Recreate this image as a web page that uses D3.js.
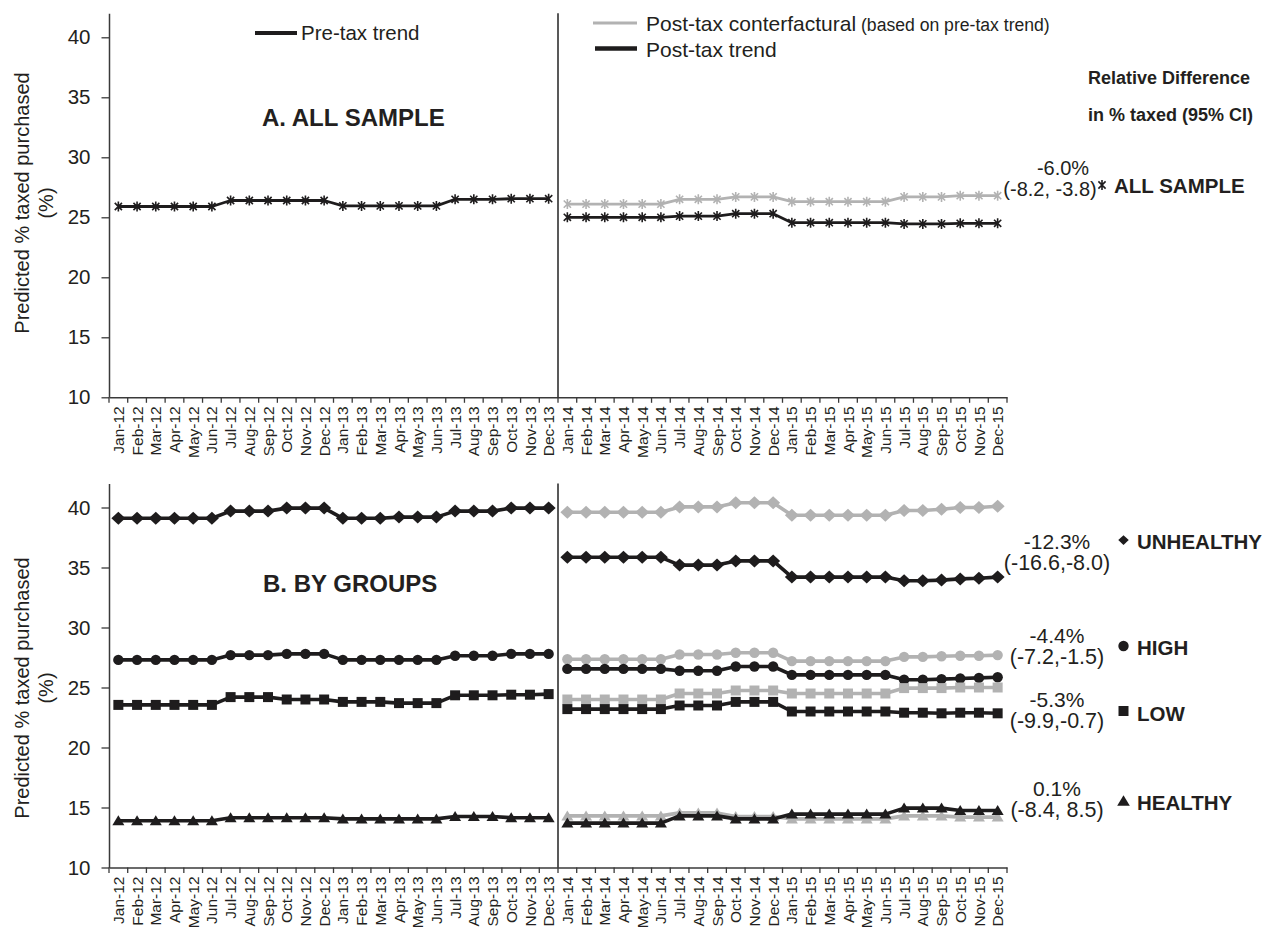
<!DOCTYPE html>
<html>
<head>
<meta charset="utf-8">
<script src="https://cdn.jsdelivr.net/npm/d3@7"></script>
<style>
  html, body { margin: 0; padding: 0; background: #fff; }
  svg { display: block; font-family: "Liberation Sans", Arial, sans-serif; }
</style>
</head>
<body>
<script>
// ---------- DATA ----------
const monthNames = ["Jan","Feb","Mar","Apr","May","Jun","Jul","Aug","Sep","Oct","Nov","Dec"];
const years = ["12","13","14","15"];
const months = years.flatMap(y => monthNames.map(m => m + "-" + y));
const preMonths = months.slice(0, 24);
const postMonths = months.slice(24);
const yTicks = [10, 15, 20, 25, 30, 35, 40];

// Panel A: all sample
const allPre  = [25.9,25.9,25.9,25.9,25.9,25.9, 26.4,26.4,26.4,26.4,26.4,26.4, 25.95,25.95,25.95,25.95,25.95,25.95, 26.5,26.5,26.5,26.55,26.55,26.55];
const allCf   = [26.1,26.1,26.1,26.1,26.1,26.1, 26.5,26.5,26.5,26.7,26.7,26.7, 26.3,26.3,26.3,26.3,26.3,26.3, 26.7,26.7,26.7,26.8,26.8,26.8];
const allPost = [25.0,25.0,25.0,25.0,25.0,25.0, 25.1,25.1,25.1,25.3,25.3,25.3, 24.55,24.55,24.55,24.55,24.55,24.55, 24.45,24.45,24.45,24.5,24.5,24.5];

// Panel B: by groups
const unhPre  = [39.1,39.1,39.1,39.1,39.1,39.1, 39.7,39.7,39.7,39.95,39.95,39.95, 39.1,39.1,39.1,39.2,39.2,39.2, 39.7,39.7,39.7,39.95,39.95,39.95];
const unhCf   = [39.6,39.6,39.6,39.6,39.6,39.6, 40.05,40.05,40.05,40.4,40.4,40.4, 39.35,39.35,39.35,39.35,39.35,39.35, 39.75,39.75,39.85,40.0,40.0,40.1];
const unhPost = [35.85,35.85,35.85,35.85,35.85,35.85, 35.2,35.2,35.2,35.55,35.55,35.55, 34.2,34.2,34.2,34.2,34.2,34.2, 33.9,33.9,33.95,34.05,34.1,34.2];

const highPre  = [27.3,27.3,27.3,27.3,27.3,27.3, 27.7,27.7,27.7,27.8,27.8,27.8, 27.3,27.3,27.3,27.3,27.3,27.3, 27.65,27.65,27.65,27.8,27.8,27.8];
const highCf   = [27.35,27.35,27.35,27.35,27.35,27.35, 27.75,27.75,27.75,27.9,27.9,27.9, 27.2,27.2,27.2,27.2,27.2,27.2, 27.55,27.55,27.6,27.65,27.65,27.7];
const highPost = [26.55,26.55,26.55,26.55,26.55,26.55, 26.4,26.4,26.4,26.75,26.75,26.75, 26.05,26.05,26.05,26.05,26.05,26.05, 25.65,25.65,25.7,25.75,25.8,25.85];

const lowPre  = [23.55,23.55,23.55,23.55,23.55,23.55, 24.2,24.2,24.2,24.0,24.0,24.0, 23.8,23.8,23.8,23.7,23.7,23.7, 24.35,24.35,24.35,24.4,24.4,24.45];
const lowCf   = [24.0,24.0,24.0,24.0,24.0,24.0, 24.5,24.5,24.5,24.75,24.75,24.75, 24.5,24.5,24.5,24.5,24.5,24.5, 24.95,24.95,24.95,25.0,25.0,25.0];
const lowPost = [23.2,23.2,23.2,23.2,23.2,23.2, 23.5,23.5,23.5,23.8,23.8,23.8, 23.0,23.0,23.0,23.0,23.0,23.0, 22.9,22.9,22.85,22.9,22.9,22.85];

const hlthPre  = [13.9,13.9,13.9,13.9,13.9,13.9, 14.15,14.15,14.15,14.15,14.15,14.15, 14.05,14.05,14.05,14.05,14.05,14.05, 14.25,14.25,14.25,14.15,14.15,14.15];
const hlthCf   = [14.3,14.3,14.3,14.3,14.3,14.3, 14.55,14.55,14.55,14.25,14.25,14.25, 14.05,14.05,14.05,14.05,14.05,14.05, 14.3,14.3,14.3,14.2,14.2,14.2];
const hlthPost = [13.7,13.7,13.7,13.7,13.7,13.7, 14.3,14.3,14.3,14.05,14.05,14.05, 14.45,14.45,14.45,14.45,14.45,14.45, 14.95,14.95,14.95,14.75,14.75,14.75];

// Annotation texts
const allAnno = { pct: "-6.0%", ci: "(-8.2, -3.8)", label: "ALL SAMPLE" };
const groupAnno = [
  { key: "unh",  pct: "-12.3%", ci: "(-16.6,-8.0)", label: "UNHEALTHY" },
  { key: "high", pct: "-4.4%",  ci: "(-7.2,-1.5)",  label: "HIGH" },
  { key: "low",  pct: "-5.3%",  ci: "(-9.9,-0.7)",  label: "LOW" },
  { key: "hlth", pct: "0.1%",   ci: "(-8.4, 8.5)",  label: "HEALTHY" }
];

// ---------- STYLE ----------
const BLACK = "#1e1c1d";
const GRAY = "#b2b2b2";
const TXT = "#231f20";

// custom marker shapes
const symDiamond = { draw(c) { const w = 7, h = 6.5; c.moveTo(0, -h); c.lineTo(w, 0); c.lineTo(0, h); c.lineTo(-w, 0); c.closePath(); } };
const symCircle = { draw(c) { c.moveTo(5.2, 0); c.arc(0, 0, 5.2, 0, 2 * Math.PI); } };
const symSquare = { draw(c) { const s = 5; c.rect(-s, -s, 2 * s, 2 * s); } };
const symTriangle = { draw(c) { const s = 6, h = 10; c.moveTo(0, -h * 0.55); c.lineTo(s, h * 0.45); c.lineTo(-s, h * 0.45); c.closePath(); } };
const symAsterisk = { draw(c) { const r = 5; const d = r * 0.72; c.moveTo(0, -r); c.lineTo(0, r); c.moveTo(-d, -d); c.lineTo(d, d); c.moveTo(-d, d); c.lineTo(d, -d); } };

const W = 1287, H = 932;
const svg = d3.select("body").append("svg").attr("width", W).attr("height", H);
svg.append("rect").attr("width", W).attr("height", H).attr("fill", "#fff");

const x = d3.scaleBand().domain(months).range([109, 1007]).paddingInner(0).paddingOuter(0);
const cx = m => x(m) + x.bandwidth() / 2;

const yA = d3.scaleLinear().domain([10, 42]).range([397.3, 13.3]);
const yB = d3.scaleLinear().domain([10, 42]).range([867.5, 483.5]);

function drawAxes(y, labelCenter) {
  const g = svg.append("g");
  const ya = g.append("g").attr("transform", `translate(${x.range()[0]},0)`)
    .call(d3.axisLeft(y).tickValues(yTicks).tickSize(7.5).tickSizeOuter(0).tickPadding(11));
  ya.select(".domain").attr("stroke", "#3a3a3a").attr("stroke-width", 1.5);
  ya.selectAll(".tick line").attr("stroke", "#3a3a3a").attr("stroke-width", 1.3);
  ya.selectAll(".tick text").attr("font-size", 20.5).attr("fill", TXT).attr("font-family", "Liberation Sans, Arial, sans-serif");

  const xa = g.append("g").attr("transform", `translate(0,${y(10)})`)
    .call(d3.axisBottom(x).tickSize(0).tickSizeOuter(0));
  xa.select(".domain").attr("stroke", "#3a3a3a").attr("stroke-width", 1.5);
  xa.selectAll(".tick text")
    .attr("transform", "rotate(-90)")
    .attr("text-anchor", "end")
    .attr("x", -9).attr("y", 0).attr("dy", "0.36em")
    .attr("font-size", 15.5).attr("fill", TXT)
    .attr("font-family", "Liberation Sans, Arial, sans-serif");
  const bounds = months.map(m => x(m)).concat([x.range()[1]]);
  xa.selectAll("line.bt").data(bounds).enter().append("line")
    .attr("class", "bt")
    .attr("x1", d => d).attr("x2", d => d)
    .attr("y1", 0).attr("y2", 5.5)
    .attr("stroke", "#3a3a3a").attr("stroke-width", 1.3);

  g.append("line")
    .attr("x1", x("Jan-14")).attr("x2", x("Jan-14"))
    .attr("y1", y(42)).attr("y2", y(10))
    .attr("stroke", "#222").attr("stroke-width", 1.5);

  g.append("text")
    .attr("transform", `translate(29,${labelCenter}) rotate(-90)`)
    .attr("text-anchor", "middle").attr("font-size", 20).attr("fill", TXT)
    .text("Predicted % taxed  purchased");
  g.append("text")
    .attr("transform", `translate(53,${labelCenter}) rotate(-90)`)
    .attr("text-anchor", "middle").attr("font-size", 20).attr("fill", TXT)
    .text("(%)");
}

function drawSeries(y, values, monthsSub, color, sym, opts = {}) {
  const line = d3.line().x((d, i) => cx(monthsSub[i])).y(d => y(d));
  svg.append("path").datum(values)
    .attr("d", line).attr("fill", "none")
    .attr("stroke", color).attr("stroke-width", opts.lw || 3.6)
    .attr("stroke-linejoin", "round");
  const s = d3.symbol().type(sym);
  svg.append("g").selectAll("path").data(values).enter().append("path")
    .attr("transform", (d, i) => `translate(${cx(monthsSub[i])},${y(d)})`)
    .attr("d", s)
    .attr("fill", opts.stroke ? "none" : color)
    .attr("stroke", color)
    .attr("stroke-width", opts.stroke ? 1.6 : 0);
}

// ---------- PANEL A ----------
drawAxes(yA, 203);
drawSeries(yA, allPre, preMonths, BLACK, symAsterisk, { lw: 2.8, stroke: true });
drawSeries(yA, allCf, postMonths, GRAY, symAsterisk, { lw: 2.8, stroke: true });
drawSeries(yA, allPost, postMonths, BLACK, symAsterisk, { lw: 2.8, stroke: true });

// ---------- PANEL B ----------
drawAxes(yB, 688);
const groups = [
  { pre: unhPre,  cf: unhCf,  post: unhPost,  sym: symDiamond },
  { pre: highPre, cf: highCf, post: highPost, sym: symCircle },
  { pre: lowPre,  cf: lowCf,  post: lowPost,  sym: symSquare },
  { pre: hlthPre, cf: hlthCf, post: hlthPost, sym: symTriangle }
];
groups.forEach(gr => {
  drawSeries(yB, gr.pre, preMonths, BLACK, gr.sym);
  drawSeries(yB, gr.cf, postMonths, GRAY, gr.sym);
  drawSeries(yB, gr.post, postMonths, BLACK, gr.sym);
});

// ---------- TEXTS / LEGENDS ----------
const txt = (xp, yp, s, size, weight, anchor) => svg.append("text")
  .attr("x", xp).attr("y", yp).attr("font-size", size)
  .attr("font-weight", weight || "normal").attr("fill", TXT)
  .attr("text-anchor", anchor || "start").text(s);

svg.append("line").attr("x1", 255).attr("x2", 297).attr("y1", 33).attr("y2", 33).attr("stroke", BLACK).attr("stroke-width", 4);
txt(301, 39.5, "Pre-tax trend", 20.5);
svg.append("line").attr("x1", 593).attr("x2", 637).attr("y1", 23).attr("y2", 23).attr("stroke", GRAY).attr("stroke-width", 3);
const lt = txt(646, 30.5, "Post-tax conterfactural", 21);
lt.append("tspan").attr("font-size", 17.6).text(" (based on pre-tax trend)");
svg.append("line").attr("x1", 595).attr("x2", 637).attr("y1", 48.5).attr("y2", 48.5).attr("stroke", BLACK).attr("stroke-width", 4.5);
txt(646, 57, "Post-tax trend", 21);

txt(262, 126, "A. ALL SAMPLE", 24, "bold");
txt(263, 592, "B. BY GROUPS", 24, "bold");

txt(1088, 84, "Relative Difference", 18, "bold");
txt(1088, 121, "in % taxed (95% CI)", 18, "bold");

txt(1063, 175, allAnno.pct, 20, "normal", "middle");
txt(1050, 196, allAnno.ci, 20, "normal", "middle");
svg.append("path").attr("transform", "translate(1102,185)").attr("d", d3.symbol().type(symAsterisk)())
  .attr("fill", "none").attr("stroke", BLACK).attr("stroke-width", 1.6);
txt(1114, 192.5, allAnno.label, 20.5, "bold");

const annoPos = {
  unh:  { py: 549, cy: 570, my: 540, ly: 549,   sym: symDiamond, sc: 0.75 },
  high: { py: 643, cy: 664, my: 646, ly: 655,   sym: symCircle,  sc: 1 },
  low:  { py: 707, cy: 728, my: 711, ly: 720.5, sym: symSquare,  sc: 1 },
  hlth: { py: 796, cy: 817, my: 801, ly: 810,   sym: symTriangle, sc: 1.05 }
};
groupAnno.forEach(a => {
  const p = annoPos[a.key];
  txt(1057, p.py, a.pct, 21, "normal", "middle");
  txt(1057, p.cy, a.ci, 21.5, "normal", "middle");
  svg.append("path").attr("transform", `translate(1123.5,${p.my}) scale(${p.sc})`)
    .attr("d", d3.symbol().type(p.sym)()).attr("fill", BLACK);
  txt(1137, p.ly, a.label, 20.5, "bold");
});
</script>
</body>
</html>
